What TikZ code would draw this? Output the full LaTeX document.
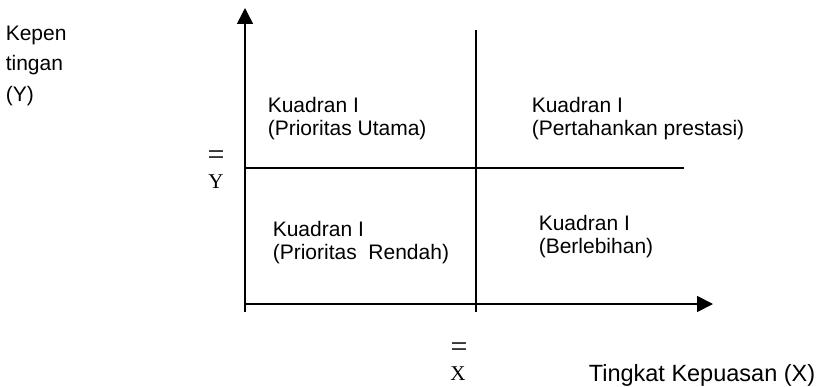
\documentclass[tikz,border=0pt]{standalone}
\usepackage{fontspec}
\setmainfont{Liberation Sans}
\newfontfamily\barfont{Liberation Serif}
\usetikzlibrary{arrows.meta,positioning}

\begin{document}
\begin{tikzpicture}[x=1pt,y=-1pt,line width=1.6pt,>={Triangle[length=16pt,width=16pt]},every node/.style={font=\fontsize{21}{23.5}\selectfont,align=left,inner sep=0pt},quad/.style={anchor=north west},barsym/.style={font=\barfont\fontsize{21}{21}\selectfont},eqsym/.style={font=\barfont\fontsize{30}{30}\selectfont}]
\useasboundingbox (0,0) rectangle (818,387);
% axes and dividing lines
\coordinate (ybot) at (245,312);\coordinate (ytop) at (245,8);
\coordinate (xlft) at (245,304);\coordinate (xrgt) at (713,304);
\coordinate (vtop) at (476,30);\coordinate (vbot) at (476,312);
\coordinate (hlft) at (245,168);\coordinate (hrgt) at (684,168);
\draw[->] (ybot)--(ytop);\draw[->] (xlft)--(xrgt);
\draw (vtop)--(vbot);\draw (hlft)--(hrgt);
% quadrants
\node[quad] (q1) at (267,96) {Kuadran I\\(Prioritas Utama)};
\node[quad] (q2) at (531,96) {Kuadran I\\(Pertahankan prestasi)};
\node[quad] (q3) at (272,220) {Kuadran I\\(Prioritas\ \ Rendah)};
\node[quad] (q4) at (538,214) {Kuadran I\\(Berlebihan)};
% axis labels
\node[quad,font=\fontsize{21}{30.5}\selectfont] (ylab) at (5,25) {Kepen\\tingan\\(Y)};
\node[anchor=base west,font=\fontsize{23.5}{23.5}\selectfont] (xlab) at (588,381) {Tingkat Kepuasan (X)};
\node[barsym] (ybar) at (216,182) {Y};
\node[eqsym] (yeq) at (216,158) {=};
\node[barsym] (xbar) at (458,374) {X};
\node[eqsym] (xeq) at (459,350) {=};
\end{tikzpicture}
\end{document}
